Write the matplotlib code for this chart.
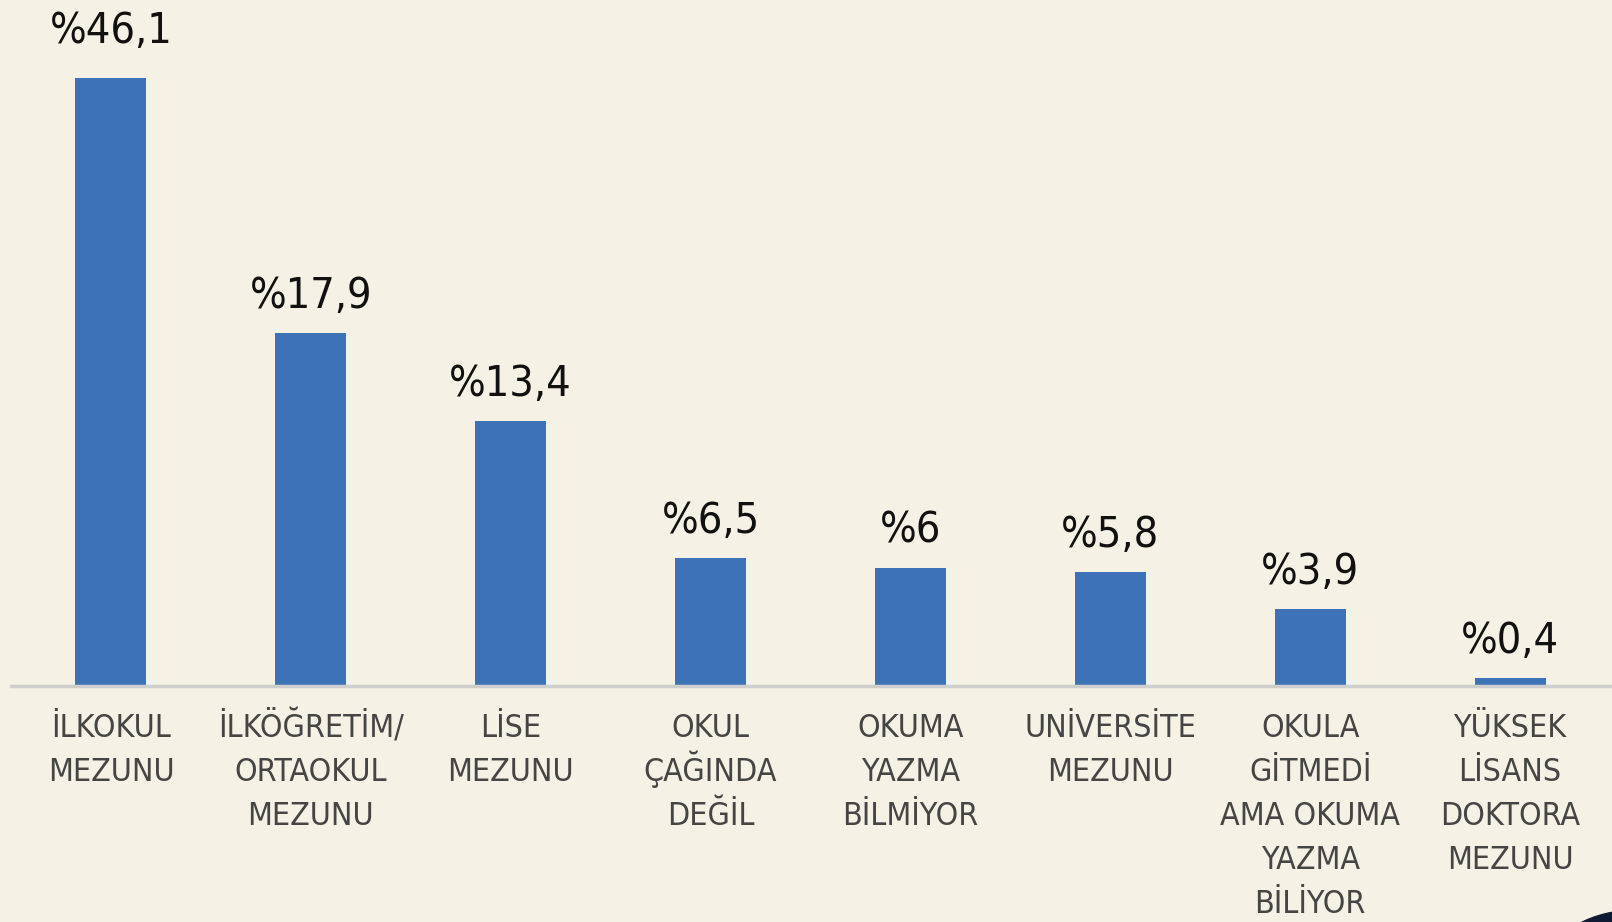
import matplotlib
matplotlib.use("Agg")
import matplotlib.pyplot as plt
from matplotlib.patches import Circle

# education level shares (%)
categories = [
    "İLKOKUL\nMEZUNU",
    "İLKÖĞRETİM/\nORTAOKUL\nMEZUNU",
    "LİSE\nMEZUNU",
    "OKUL\nÇAĞINDA\nDEĞİL",
    "OKUMA\nYAZMA\nBİLMİYOR",
    "UNİVERSİTE\nMEZUNU",
    "OKULA\nGİTMEDİ\nAMA OKUMA\nYAZMA\nBİLİYOR",
    "YÜKSEK\nLİSANS\nDOKTORA\nMEZUNU",
]
values = [46.1, 17.9, 13.4, 6.5, 6.0, 5.8, 3.9, 0.4]
value_labels = ["%46,1", "%17,9", "%13,4", "%6,5", "%6", "%5,8", "%3,9", "%0,4"]

BG = "#f5f1e4"
BAR = "#3d72b8"
FONT = dict(family="DejaVu Sans", stretch="condensed")

fig = plt.figure(figsize=(16.12, 9.22), dpi=100, facecolor=BG)
ax = fig.add_axes([11 / 1612, 236 / 922, 1 - 11 / 1612, 608 / 922])
ax.set_facecolor("none")

# first bar runs off the top of the axis (broken scale in the original)
ymax = 30.8
xs = range(len(values))
ax.bar(xs, values, width=0.355, color=BAR, zorder=2)
ax.set_xlim(-0.5, 7.51)
ax.set_ylim(0, ymax)

for x, v, lab in zip(xs, values, value_labels):
    y = min(v, ymax)
    off = 25 if v > ymax else 18
    ax.annotate(lab, (x, y), xytext=(0, off), textcoords="offset points",
                ha="center", va="baseline", fontsize=31, color="#111111",
                annotation_clip=False, **FONT)

# one text per line so the breve/dot accents don't push lines apart
for x, cat in zip(xs, categories):
    for i, line in enumerate(cat.split("\n")):
        ax.annotate(line, (x, 0), xytext=(0, -37 - 31.6 * i),
                    textcoords="offset points", ha="center", va="baseline",
                    fontsize=23, color="#454545", annotation_clip=False, **FONT)

for side in ["top", "left", "right"]:
    ax.spines[side].set_visible(False)
ax.spines["bottom"].set_color("#cfcfcf")
ax.spines["bottom"].set_linewidth(2.5)
ax.spines["bottom"].set_zorder(3)
ax.set_xticks([])
ax.set_yticks([])

# corner seal, partly outside the canvas
fig.patches.append(Circle((1640 / 1612, 1 - 960 / 922), 88 / 1612,
                          transform=fig.transFigure, color="#0f1a33"))
fig.patches.append(Circle((1640 / 1612, 1 - 960 / 922), 62 / 1612,
                          transform=fig.transFigure, fill=False,
                          edgecolor="#c9a949", linewidth=1.2))

fig.savefig("out.png", dpi=100, facecolor=BG)
